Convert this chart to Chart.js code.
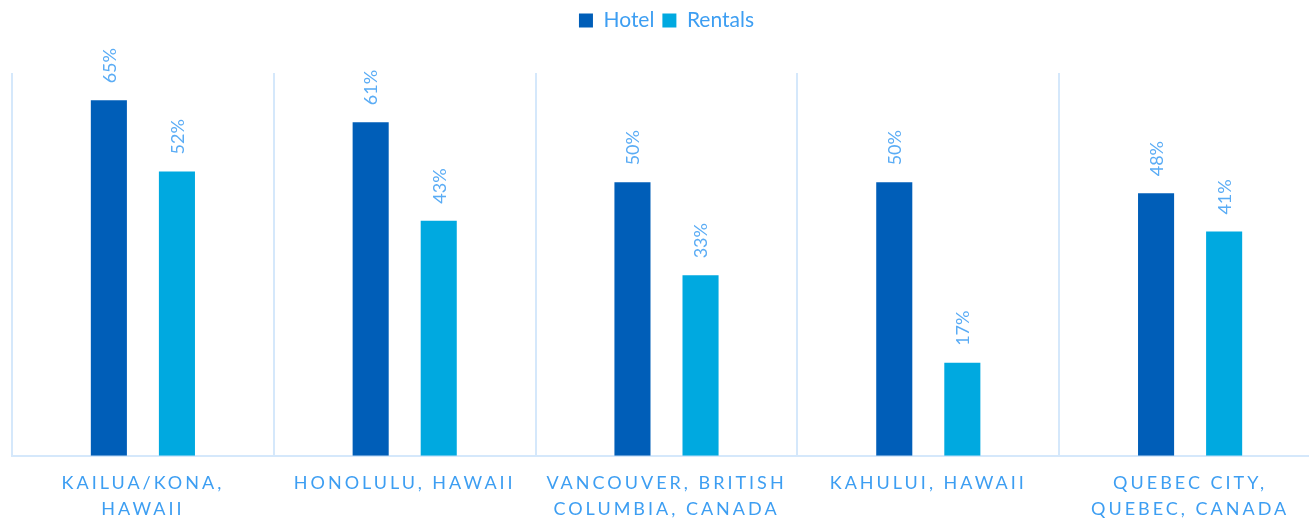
<!DOCTYPE html>
<html lang="en">
<head>
    <meta charset="UTF-8">
    <title>Hotel vs Rentals</title>
    <script src="https://cdn.jsdelivr.net/npm/chart.js"></script>
    <style>
        body { margin: 0; overflow: hidden; background: #fff; font-family: Lato, sans-serif; }
        #wrap { width: 1322px; height: 538px; }
    </style>
</head>
<body>
    <div id="wrap"><canvas id="chart"></canvas></div>

    <script>
        const cities = [
            ['KAILUA/KONA,', 'HAWAII'],
            'HONOLULU, HAWAII',
            ['VANCOUVER, BRITISH', 'COLUMBIA, CANADA'],
            'KAHULUI, HAWAII',
            ['QUEBEC CITY,', 'QUEBEC, CANADA']
        ];
        const hotel = [65, 61, 50, 50, 48];
        const rentals = [52, 43, 33, 17, 41];

        const textBlue = '#3d9ef2';
        const labelBlue = '#5aacf5';
        const gridBlue = '#d5e8fb';

        // rotated percentage labels above each bar
        const barLabels = {
            id: 'barLabels',
            afterDatasetsDraw(chart) {
                const ctx = chart.ctx;
                chart.data.datasets.forEach((ds, i) => {
                    chart.getDatasetMeta(i).data.forEach((bar, j) => {
                        ctx.save();
                        ctx.translate(bar.x, bar.y - 17);
                        ctx.rotate(-Math.PI / 2);
                        ctx.font = '18px Lato';
                        ctx.fillStyle = labelBlue;
                        ctx.textAlign = 'left';
                        ctx.textBaseline = 'middle';
                        ctx.fillText(ds.data[j] + '%', 0, 1);
                        ctx.restore();
                    });
                });
            }
        };

        // spaced-out capitals on the category axis
        const spacedTicks = {
            id: 'spacedTicks',
            afterLayout(chart) {
                const x = chart.scales.x;
                if (x._spaced) return;
                const orig = x.drawLabels.bind(x);
                x.drawLabels = function (area) {
                    chart.ctx.save();
                    chart.ctx.letterSpacing = '3px';
                    orig(area);
                    chart.ctx.restore();
                };
                x._spaced = true;
            }
        };

        // leave room under the legend for the tall labels
        const legendGap = {
            id: 'legendGap',
            beforeInit(chart) {
                const fit = chart.legend.fit;
                chart.legend.fit = function () {
                    fit.bind(chart.legend)();
                    this.height += 32;
                };
            }
        };

        const chart = new Chart(document.getElementById('chart'), {
            type: 'bar',
            data: {
                labels: cities,
                datasets: [
                    { label: 'Hotel', data: hotel, backgroundColor: '#005eb8' },
                    { label: 'Rentals', data: rentals, backgroundColor: '#00a9e0' }
                ]
            },
            options: {
                responsive: true,
                maintainAspectRatio: false,
                animation: false,
                layout: { padding: { left: 12, right: 1, top: 2, bottom: 2 } },
                datasets: { bar: { categoryPercentage: 0.52, barPercentage: 0.53 } },
                plugins: {
                    tooltip: { enabled: false },
                    legend: {
                        labels: {
                            boxWidth: 14, boxHeight: 14, padding: 8,
                            color: textBlue,
                            font: { family: 'Lato', size: 21 }
                        }
                    }
                },
                scales: {
                    x: {
                        grid: { color: gridBlue, lineWidth: 2, drawTicks: false },
                        border: { color: gridBlue, width: 2 },
                        ticks: {
                            color: textBlue, maxRotation: 0, autoSkip: false, padding: 14,
                            font: { family: 'Lato', size: 18, lineHeight: 1.45 }
                        }
                    },
                    y: {
                        display: false,
                        min: 0, max: 70
                    }
                }
            },
            plugins: [barLabels, spacedTicks, legendGap]
        });
    </script>
</body>
</html>
